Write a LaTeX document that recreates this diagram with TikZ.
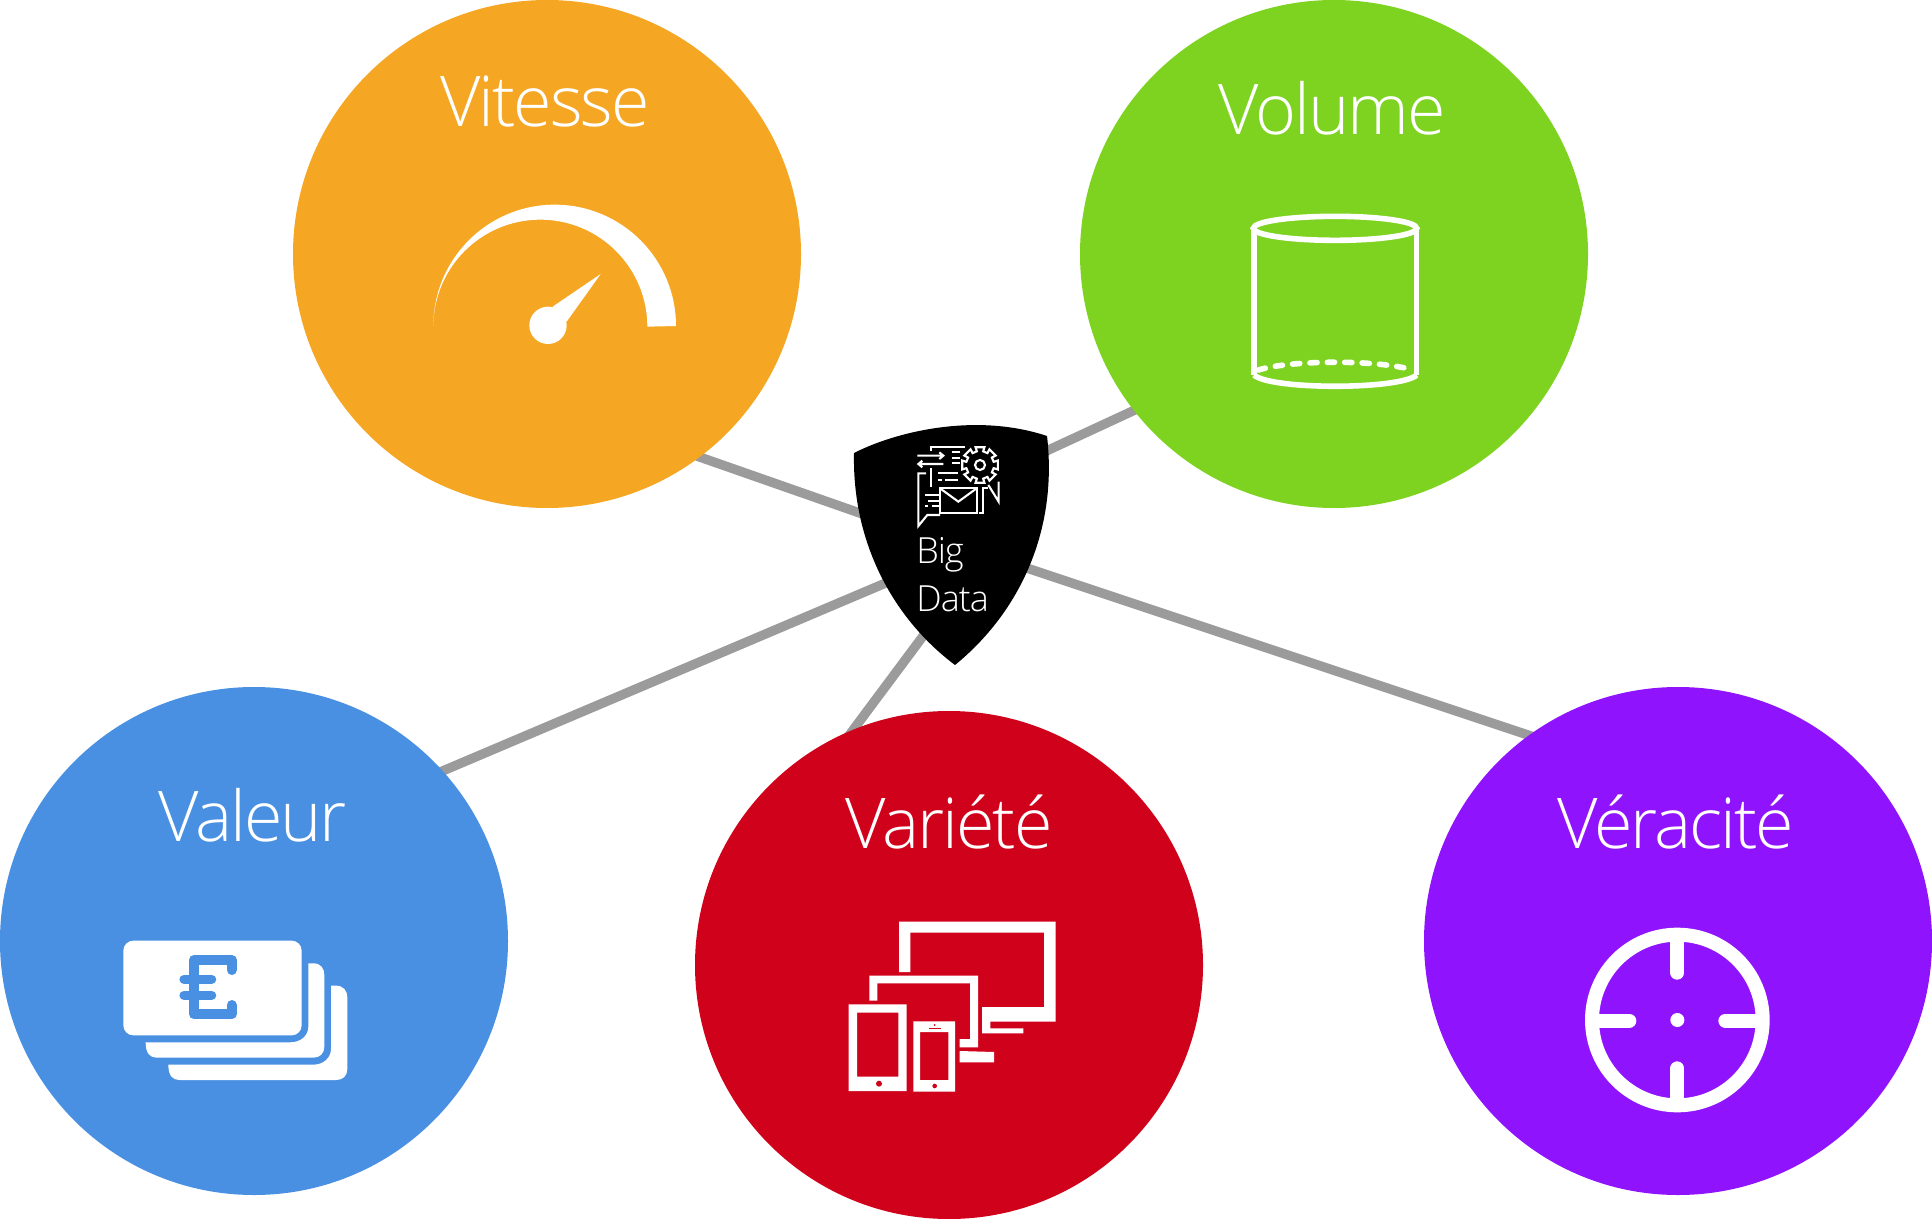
\documentclass[tikz,border=0pt]{standalone}
\usepackage{fontspec}
\newfontfamily\thinfont[LetterSpace=-3]{Open Sans Light}
\usetikzlibrary{positioning}
\usetikzlibrary{backgrounds}
\definecolor{vorange}{HTML}{F5A623}
\definecolor{vgreen}{HTML}{7ED321}
\definecolor{vblue}{HTML}{4A90E2}
\definecolor{vred}{HTML}{D0021B}
\definecolor{vpurple}{HTML}{9013FE}
\definecolor{vgray}{HTML}{9B9B9B}
\tikzset{
  vcircle/.style={circle,minimum size=254pt,inner sep=0pt,fill=#1},
  vtitle/.style={anchor=base,text=white,inner sep=0pt,font=\thinfont\fontsize{35}{40}\selectfont},
  hubtext/.style={anchor=base west,text=white,inner sep=0pt,font=\thinfont\fontsize{18}{20}\selectfont},
  spoke/.style={draw=vgray,line width=4.7pt,shorten <=-6pt},
  iconline/.style={draw=white,line width=1.05pt},
}
\begin{document}
\begin{tikzpicture}[x=0.5pt,y=-0.5pt]
 \useasboundingbox (0,0) rectangle (1932,1219);
 % the five circles
 \node[vcircle=vorange] (vitesse) at (547,254) {};
 \node[vcircle=vgreen] (volume) at (1334,254) {};
 \node[vcircle=vblue] (valeur) at (254,941) {};
 \node[vcircle=vred] (variete) at (949,965) {};
 \node[vcircle=vpurple] (veracite) at (1678,941) {};
 \node[circle,minimum size=70pt,inner sep=0pt] (hub) at (951,542) {};
 % spokes
 \begin{scope}[on background layer]
  \draw[spoke] (vitesse.-53.4) -- (hub.163);
  \draw[spoke] (volume.218.2) -- (hub.62.7);
  \draw[spoke] (valeur.42) -- (hub.213.6);
  \draw[spoke] (variete.112.8) -- (hub.262);
  \draw[spoke] (veracite.126.3) -- (hub.-19);
 \end{scope}
 % shield
 \fill[black] (854,453) .. controls (895,432) and (975,412) .. (1047,436)
   .. controls (1058,530) and (1020,612) .. (955,665)
   .. controls (895,620) and (852,545) .. (854,453) -- cycle;
 % titles
 \node[vtitle] (vitesseT) at (545,127) {Vitesse};
 \node[vtitle] (volumeT) at (1332,135) {Volume};
 \node[vtitle] (valeurT) at (253,841) {Valeur};
 \node[vtitle] (varieteT) at (949,848) {Variété};
 \node[vtitle] (veraciteT) at (1676,848) {Véracité};
 \node[hubtext] (bigT) at (916,563) {Big};
 \node[hubtext] (dataT) at (916,611) {Data};
 % hub icon
 \begin{scope}[shift={(910,440)},scale=1/3]
  \coordinate (gear) at (210,75);
  \draw[iconline] (22,47) -- (100,47) (88,37) -- (100,47) -- (88,57);
  \draw[iconline] (100,72) -- (25,72) (37,62) -- (25,72) -- (37,82);
  \draw[iconline] (63,33) -- (63,20) -- (165,20);
  \draw[iconline] (63,85) -- (63,140);
  \foreach \yy in {37,55,70} \draw[iconline] (125,\yy) -- (150,\yy);
  \draw[iconline] (85,100) -- (145,100) (85,120) -- (95,120) (105,120) -- (145,120);
  \draw[iconline] (48,100) -- (25,100) -- (25,258) -- (52,225) -- (90,225);
  \draw[iconline] (90,145) rectangle (200,220);
  \draw[iconline] (90,145) -- (145,185) -- (200,145);
  \draw[iconline] (45,165) -- (90,165) (55,182) -- (90,182) (45,198) -- (55,198) (65,198) -- (90,198);
  \draw[iconline] (208,220) -- (220,220) -- (220,145) -- (235,145);
  \draw[iconline] (235,135) -- (266,185) -- (266,125);
  \draw[iconline] ([shift={(-14:55)}]gear)
    \foreach \a in {0,45,...,315} {
      -- ([shift={(\a-14:55)}]gear) -- ([shift={(\a+14:55)}]gear)
      -- ([shift={(\a+13:42)}]gear) -- ([shift={(\a+32:42)}]gear)
    } -- cycle;
  \draw[iconline] (gear) circle (15);
 \end{scope}
 % speedometer
 \begin{scope}[shift={(400,180)},scale=1/3]
  \fill[white] (100,438) arc[start angle=180,end angle=360,radius=364] -- (742,440)
    arc[start angle=0,end angle=-180,radius=321] -- cycle;
  \fill[white] (444,436) circle (56);
  \fill[white] (458,380) -- (602,282) -- (500,425) -- cycle;
 \end{scope}
 % cylinder
 \begin{scope}[shift={(1230,190)},scale=1/3]
  \draw[white,line width=2.8pt] (315,115) ellipse (245 and 36);
  \draw[white,line width=2.8pt] (72,115) -- (72,555) (560,115) -- (560,555);
  \draw[white,line width=2.8pt] (72,555) .. controls (120,600) and (510,600) .. (560,555);
  \draw[white,line width=2.8pt,line cap=round,dash pattern=on 3.6pt off 5.1pt]
    (85,540) .. controls (185,509) and (445,509) .. (548,540);
 \end{scope}
 % banknotes
 \begin{scope}[shift={(100,920)},scale=1/3]
  \fill[white,rounded corners=5pt] (70,62) rectangle (605,346);
  \fill[white] (625,130) -- (640,130) .. controls (662,130) and (673,145) .. (673,165) -- (673,380)
    .. controls (673,400) and (660,413) .. (640,413) -- (170,413) .. controls (150,413) and (137,400) .. (137,367)
    -- (570,367) .. controls (605,367) and (625,345) .. (625,320) -- cycle;
  \fill[white] (693,197) -- (708,197) .. controls (730,197) and (742,212) .. (742,232) -- (742,447)
    .. controls (742,467) and (729,480) .. (709,480) -- (238,480) .. controls (218,480) and (205,467) .. (205,434)
    -- (640,434) .. controls (672,434) and (693,412) .. (693,387) -- cycle;
  \draw[vblue,line width=5pt,line cap=round,line join=round]
    (395,150) -- (395,120) -- (282,120) -- (282,283) -- (395,283) -- (395,255);
  \draw[vblue,line width=4.6pt,line cap=round] (252,178) -- (335,178) (252,226) -- (335,226);
 \end{scope}
 % devices
 \begin{scope}[shift={(830,900)},scale=1/3]
  \fill[white] (207,65) -- (677,65) -- (677,365) -- (481,365) -- (481,385) -- (580,385) -- (580,400)
    -- (456,400) -- (456,321) -- (642,321) -- (642,98) -- (241,98) -- (241,216) -- (207,216) -- cycle;
  \fill[white] (118,227) -- (444,227) -- (444,442) -- (389,442) -- (389,417) -- (420,417) -- (420,250)
    -- (142,250) -- (142,302) -- (118,302) -- cycle;
  \fill[white] (389,453) -- (492,456) -- (492,487) -- (389,487) -- cycle;
  \fill[white,even odd rule] (56,313) rectangle (230,573) (81,338) rectangle (205,530);
  \fill[vred] (147,551) circle (9);
  \fill[white,even odd rule] (250,364) rectangle (375,575) (270,396) rectangle (355,540);
  \fill[vred] (314,558) circle (7);
  \fill[vred] (297,383) rectangle (332,387);
  \fill[vred] (314,375) circle (3);
 \end{scope}
 % target
 \begin{scope}[shift={(1570,910)},scale=1/3]
  \draw[white,line width=7pt] (322,330) circle (256);
  \draw[white,line width=7pt,line cap=round] (322,90) -- (322,188) (322,570) -- (322,475)
    (85,332) -- (178,332) (560,332) -- (466,332);
  \fill[white] (322,330) circle (21);
 \end{scope}
\end{tikzpicture}
\end{document}
